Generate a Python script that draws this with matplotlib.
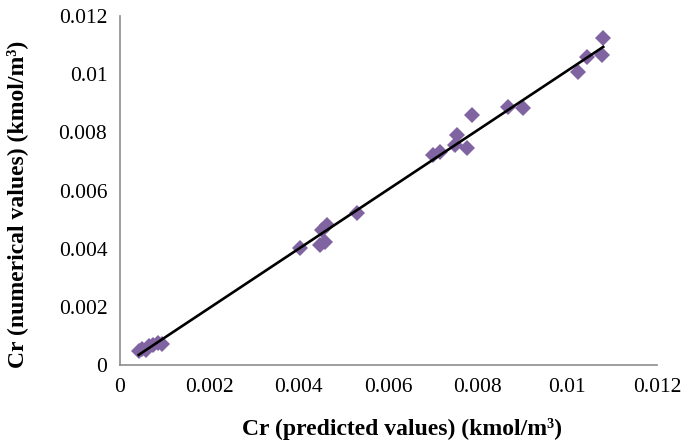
import numpy as np
import matplotlib.pyplot as plt

plt.rcParams["font.family"] = ["Liberation Serif", "DejaVu Serif"]

# predicted vs numerical Cr values (kmol/m3)
cr_predicted = [
    0.00042, 0.00050, 0.00058, 0.00066, 0.00075, 0.00085, 0.00095,
    0.00402, 0.00447, 0.00451, 0.00458, 0.00463, 0.00530,
    0.00699, 0.00715, 0.00749, 0.00753, 0.00775, 0.00787,
    0.00867, 0.00900, 0.01023, 0.01044, 0.01077, 0.01080,
]
cr_numerical = [
    0.00050, 0.00055, 0.00052, 0.00065, 0.00068, 0.00075, 0.00072,
    0.00402, 0.00413, 0.00464, 0.00423, 0.00481, 0.00523,
    0.00722, 0.00732, 0.00756, 0.00791, 0.00746, 0.00860,
    0.00887, 0.00884, 0.01007, 0.01060, 0.01066, 0.01124,
]
ticks = [0, 0.002, 0.004, 0.006, 0.008, 0.01, 0.012]
tick_labels = ["0", "0.002", "0.004", "0.006", "0.008", "0.01", "0.012"]

fig = plt.figure(figsize=(6.85, 4.48), dpi=100)
ax = fig.add_axes([0.175, 0.185, 0.784, 0.779])

ax.plot(cr_predicted, cr_numerical, linestyle="none", marker="D",
        markersize=8.5, color="#8064A2", markeredgewidth=0, zorder=2)

# linear trendline
x = np.array(cr_predicted)
slope, intercept = np.polyfit(x, cr_numerical, 1)
xl = np.array([x.min(), x.max()])
ax.plot(xl, slope * xl + intercept, color="black", linewidth=1.9, zorder=3)

ax.set_xlim(0, 0.012)
ax.set_ylim(0, 0.012)
ax.set_xticks(ticks)
ax.set_xticklabels(tick_labels)
ax.set_yticks(ticks)
ax.set_yticklabels(tick_labels)
ax.tick_params(length=0, labelsize=15.5, pad=9)

for side in ["top", "right"]:
    ax.spines[side].set_visible(False)
for side in ["left", "bottom"]:
    ax.spines[side].set_color("#8c8c8c")
    ax.spines[side].set_linewidth(1.2)

ax.set_xlabel("Cr (predicted values) (kmol/m³)", fontsize=17,
              fontweight="bold")
ax.set_ylabel("Cr (numerical values) (kmol/m³)", fontsize=17,
              fontweight="bold")
# Excel places the titles a bit off the axes centre
ax.xaxis.set_label_coords(0.525, -0.152)
ax.yaxis.set_label_coords(-0.171, 0.46)

plt.savefig("out.png", dpi=100)
